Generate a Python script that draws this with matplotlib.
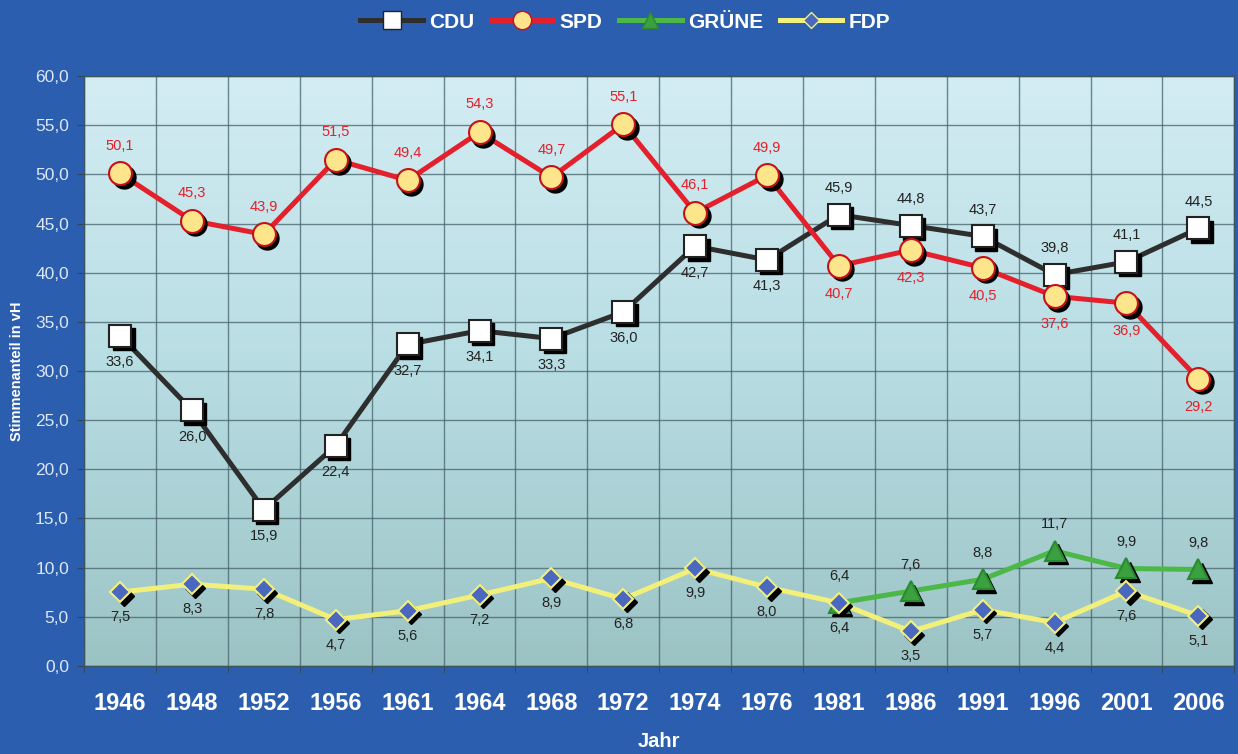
import numpy as np
import matplotlib
matplotlib.use("Agg")
import matplotlib.pyplot as plt
from matplotlib.transforms import offset_copy
from matplotlib.colors import LinearSegmentedColormap

plt.rcParams['font.family'] = ['Liberation Sans', 'DejaVu Sans']

years = ["1946", "1948", "1952", "1956", "1961", "1964", "1968", "1972",
         "1974", "1976", "1981", "1986", "1991", "1996", "2001", "2006"]
cdu = [33.6, 26.0, 15.9, 22.4, 32.7, 34.1, 33.3, 36.0, 42.7, 41.3, 45.9, 44.8, 43.7, 39.8, 41.1, 44.5]
spd = [50.1, 45.3, 43.9, 51.5, 49.4, 54.3, 49.7, 55.1, 46.1, 49.9, 40.7, 42.3, 40.5, 37.6, 36.9, 29.2]
gruene_years = ["1981", "1986", "1991", "1996", "2001", "2006"]
gruene = [6.4, 7.6, 8.8, 11.7, 9.9, 9.8]
fdp = [7.5, 8.3, 7.8, 4.7, 5.6, 7.2, 8.9, 6.8, 9.9, 8.0, 6.4, 3.5, 5.7, 4.4, 7.6, 5.1]

# label above (+1) or below (-1)
cdu_pos = [-1] * 10 + [1] * 6
spd_pos = [1] * 10 + [-1] * 6

BG = "#2b5eae"
fig = plt.figure(figsize=(12.38, 7.54), dpi=100, facecolor=BG)
ax = fig.add_axes([0.068, 0.117, 0.929, 0.782])
ax.set_facecolor("#b8dde2")

x = np.arange(len(years))
xg = np.array([years.index(y) for y in gruene_years])

# gradient background (light at top, darker teal at bottom)
cmap = LinearSegmentedColormap.from_list("bg", ["#d3edf3", "#b7dde3", "#9cc3c4"])
grad = np.linspace(0, 1, 256).reshape(-1, 1)
ax.imshow(grad, cmap=cmap, aspect="auto", extent=[-0.5, 15.5, 0, 60], zorder=0)

ax.set_xlim(-0.5, 15.5)
ax.set_ylim(0, 60)
ax.set_yticks(np.arange(0, 61, 5))
ax.set_yticklabels([f"{v:.1f}".replace(".", ",") for v in np.arange(0, 61, 5)],
                   color="#dce8f6", fontsize=12.5)
ax.set_xticks(x)
ax.set_xticklabels(years, color="white", fontsize=17, fontweight="bold")
ax.set_xticks(np.arange(-0.5, 16, 1), minor=True)
ax.tick_params(axis="x", which="major", length=0, pad=19)
ax.tick_params(axis="x", which="minor", length=5, color="#334455")
ax.tick_params(axis="y", length=5, color="#334455", pad=6)
ax.grid(axis="y", color="#45626a", linewidth=1, alpha=0.75, zorder=1)
ax.grid(axis="x", which="minor", color="#45626a", linewidth=1, alpha=0.75, zorder=1)
for s in ax.spines.values():
    s.set_color("#3c5560")
    s.set_linewidth(1)

ax.set_ylabel("Stimmenanteil in vH", color="white", fontsize=10.5, fontweight="bold", labelpad=8)
ax.set_xlabel("Jahr", color="white", fontsize=14.5, fontweight="bold", labelpad=12)

shadow = offset_copy(ax.transData, fig=fig, x=2.5, y=-2.5, units="points")


def series(xs, ys, lc, marker, ms, mfc, mec, label, z):
    ax.plot(xs, ys, color=lc, linewidth=3.6, zorder=z, solid_capstyle="round")
    ax.plot(xs, ys, linestyle="none", marker=marker, markersize=ms, color="black",
            transform=shadow, zorder=z + 0.1)
    ax.plot(xs, ys, linestyle="none", marker=marker, markersize=ms, markerfacecolor=mfc,
            markeredgecolor=mec, markeredgewidth=1.5, zorder=z + 0.2)
    return ax.plot([], [], color=lc, linewidth=3.6, marker=marker, markersize=ms * 0.8,
                   markerfacecolor=mfc, markeredgecolor=mec, label=label)[0]


h1 = series(x, cdu, "#2e2e2e", "s", 15.5, "white", "#222222", "CDU", 5)
h2 = series(x, spd, "#e3202b", "o", 16.5, "#fde58c", "#c81018", "SPD", 6)
h3 = series(xg, gruene, "#4cb848", "^", 14, "#3aa040", "#2a8a30", "GRÜNE", 3)
h4 = series(x, fdp, "#f2f07a", "D", 10, "#4a68c0", "#f2f07a", "FDP", 4)


def fmt(v):
    return f"{v:.1f}".replace(".", ",")


for xi, v, p in zip(x, cdu, cdu_pos):
    ax.annotate(fmt(v), (xi, v), xytext=(0, 19 * p), textcoords="offset points",
                ha="center", va="center", fontsize=10.5, color="#222222", zorder=10)
for xi, v, p in zip(x, spd, spd_pos):
    ax.annotate(fmt(v), (xi, v), xytext=(0, 20 * p), textcoords="offset points",
                ha="center", va="center", fontsize=10.5, color="#e3202b", zorder=10)
for xi, v in zip(xg, gruene):
    ax.annotate(fmt(v), (xi, v), xytext=(0, 19), textcoords="offset points",
                ha="center", va="center", fontsize=10.5, color="#222222", zorder=10)
for xi, v in zip(x, fdp):
    ax.annotate(fmt(v), (xi, v), xytext=(0, -18), textcoords="offset points",
                ha="center", va="center", fontsize=10.5, color="#222222", zorder=10)

leg = fig.legend(handles=[h1, h2, h3, h4], loc="upper center", bbox_to_anchor=(0.505, 1.008),
                 ncol=4, frameon=False, handlelength=3.0, handletextpad=0.3,
                 columnspacing=0.8, prop={"size": 15, "weight": "bold"})
for t in leg.get_texts():
    t.set_color("white")

fig.savefig("out.png", dpi=100, facecolor=BG)
